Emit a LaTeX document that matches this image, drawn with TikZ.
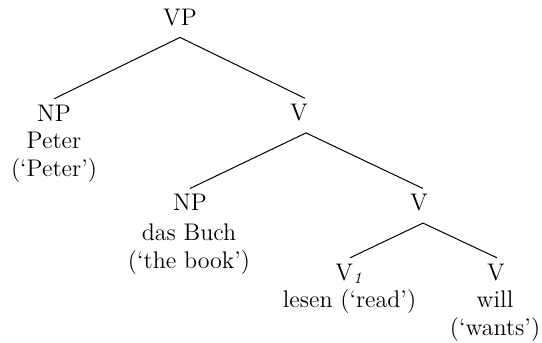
\documentclass[tikz,border=0pt]{standalone}
\tikzset{
  cat/.style={inner sep=0pt, text height=8.4pt, text depth=0pt, font=\fontsize{12}{14}\selectfont},
  words/.style={inner sep=0pt, font=\fontsize{12}{14}\selectfont},
  branch/.style={line width=0.5pt}
}
\newcommand{\lexlines}[1]{\begin{tabular}[t]{@{}c@{}}#1\end{tabular}}
\begin{document}
\begin{tikzpicture}[x=0.5pt,y=-0.5pt]
\useasboundingbox (0,0) rectangle (542,343);
% category nodes
\node[cat, anchor=base] (vp) at (180,25) {VP};
\node[cat, anchor=base] (np1) at (54,121) {NP};
\node[cat, anchor=base] (va) at (299,120.5) {V};
\node[cat, anchor=base] (np2) at (190,210.7) {NP};
\node[cat, anchor=base] (vb) at (419,210.7) {V};
\node[cat, anchor=base west] (v1) at (335,280) {V$_{\mathit{1}}$};
\node[cat, anchor=base] (vc) at (496,280) {V};
% word nodes
\node[words, anchor=base] (np1w) at (54,148.3) {\lexlines{Peter\\(`Peter')}};
\node[words, anchor=base] (np2w) at (189,240.7) {\lexlines{das Buch\\(`the book')}};
\node[words, anchor=base] (v1w) at (349.5,307) {\lexlines{lesen (`read')}};
\node[words, anchor=base] (vcw) at (495,307) {\lexlines{will\\(`wants')}};
% branches
\draw[branch] ([yshift=-6pt]vp.south) -- ([yshift=2.5pt]np1.north);
\draw[branch] ([yshift=-6pt]vp.south) -- ([xshift=3pt,yshift=2.5pt]va.north);
\draw[branch] ([xshift=3.5pt,yshift=-6pt]va.south) -- ([yshift=2.5pt]np2.north);
\draw[branch] ([xshift=3.5pt,yshift=-6pt]va.south) -- ([xshift=2pt,yshift=2.5pt]vb.north);
\draw[branch] ([xshift=2pt,yshift=-6pt]vb.south) -- ([xshift=7.5pt,yshift=2.5pt]v1.north west);
\draw[branch] ([xshift=2pt,yshift=-6pt]vb.south) -- ([xshift=0.5pt,yshift=2.5pt]vc.north);
\end{tikzpicture}
\end{document}
